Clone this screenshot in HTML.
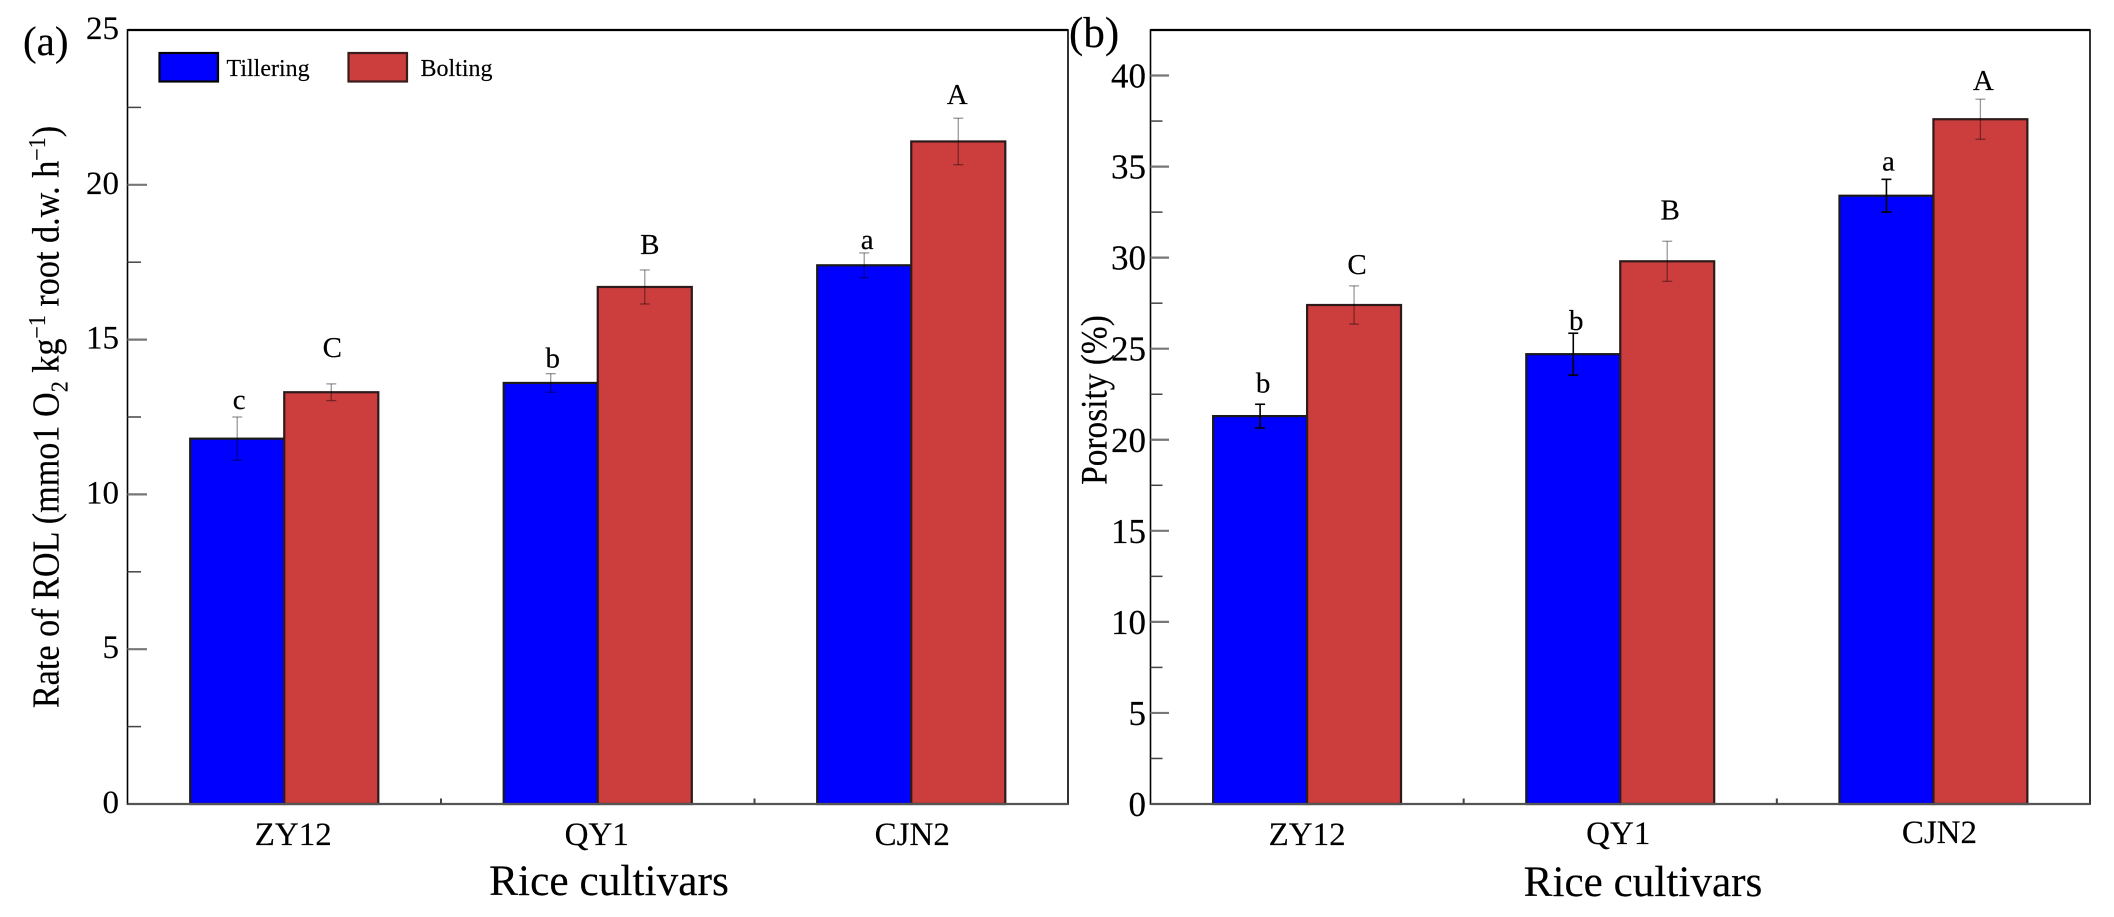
<!DOCTYPE html>
<html lang="en">
<head>
<meta charset="utf-8">
<title>Rate of ROL and porosity in rice cultivars</title>
<style>
html,body{margin:0;padding:0;background:#fff;width:2114px;height:917px;overflow:hidden}
svg{display:block}
text{font-family:"Liberation Serif","DejaVu Serif",serif;fill:#000;stroke:#000;stroke-width:0.15}
</style>
</head>
<body>
<svg id="figure" xmlns="http://www.w3.org/2000/svg" width="2114" height="917" viewBox="0 0 2114 917">
  <rect x="0" y="0" width="2114" height="917" fill="#fff"/>
  <g id="panel-a"></g>
  <g id="panel-b"></g>

  <text x="23" y="55" font-size="41">(a)</text>
  <text x="1069" y="47" font-size="43">(b)</text>

  <g>
    <g>
      <rect x="159.5" y="53" width="58.5" height="28.5" fill="#0000ff" stroke="#050505" stroke-width="2.2"/>
      <text x="226.5" y="76" font-size="24">Tillering</text>
    </g>
    <g>
      <rect x="348.5" y="53" width="58.5" height="28.5" fill="#cc3d3d" stroke="#3a1c1c" stroke-width="2.2"/>
      <text x="420.5" y="76" font-size="24">Bolting</text>
    </g>
  </g>

  <text transform="translate(58.5,417) rotate(-90) scale(1,1.12)" text-anchor="middle" font-size="34.2">Rate of ROL (mmo1 O<tspan font-size="22" dy="8">2</tspan><tspan dy="-8"> kg</tspan><tspan font-size="22" dy="-12">−1</tspan><tspan dy="12"> root d.w. h</tspan><tspan font-size="22" dy="-12">−1</tspan><tspan dy="12">)</tspan></text>
  <text transform="translate(1106.5,400) rotate(-90) scale(1,1.12)" text-anchor="middle" font-size="33.4">Porosity (%)</text>
  <text x="609" y="895" text-anchor="middle" font-size="43.4">Rice cultivars</text>
  <text x="1643" y="896" text-anchor="middle" font-size="43.2">Rice cultivars</text>
</svg>

<script>
// ---------- data ----------
const categories = ['ZY12', 'QY1', 'CJN2'];

// Panel (a): rate of radial oxygen loss
const rolTillering = [11.8, 13.6, 17.4];
const rolBolting = [13.3, 16.7, 21.4];
const rolTilleringErr = [0.7, 0.3, 0.4];
const rolBoltingErr = [0.27, 0.55, 0.75];
const rolTilleringLetters = ['c', 'b', 'a'];
const rolBoltingLetters = ['C', 'B', 'A'];
const rolMajorTicks = [0, 5, 10, 15, 20, 25];
const rolMinorTicks = [2.5, 7.5, 12.5, 17.5, 22.5];

// Panel (b): porosity
const porTillering = [21.3, 24.7, 33.4];
const porBolting = [27.4, 29.8, 37.6];
const porTilleringErr = [0.65, 1.15, 0.9];
const porBoltingErr = [1.05, 1.1, 1.1];
const porTilleringLetters = ['b', 'b', 'a'];
const porBoltingLetters = ['C', 'B', 'A'];
const porMajorTicks = [0, 5, 10, 15, 20, 25, 30, 35, 40];
const porMinorTicks = [2.5, 7.5, 12.5, 17.5, 22.5, 27.5, 32.5, 37.5];

// ---------- helpers ----------
const SVG_NS = 'http://www.w3.org/2000/svg';
function add(parent, tag, attrs, txt) {
  const node = document.createElementNS(SVG_NS, tag);
  for (const k in attrs) node.setAttribute(k, attrs[k]);
  if (txt !== undefined) node.textContent = txt;
  parent.appendChild(node);
  return node;
}

function drawPanel(p) {
  const root = document.getElementById(p.id);
  const yScale = v => p.bottom - (v / p.yMax) * (p.bottom - p.top);
  const step = (p.right - p.left) / categories.length;
  const xCenter = i => p.left + step * (i + 0.5);
  const barW = step * 0.3;
  let el;

  // bars
  categories.forEach((cat, i) => {
    el = add(root, 'rect', {x: xCenter(i) - barW, y: yScale(p.till[i]), width: barW, height: p.bottom - yScale(p.till[i]), fill: '#0000ff', stroke: '#1a1a1a', 'stroke-width': 2.2});
    
    
    el = add(root, 'rect', {x: xCenter(i), y: yScale(p.bolt[i]), width: barW, height: p.bottom - yScale(p.bolt[i]), fill: '#cc3d3d', stroke: '#2e1a1a', 'stroke-width': 2.2});
    
    
  });

  // error bars + significance letters
  const drawErr = (cx, v, e, color, width, name) => {
    const g = add(root, 'g', {stroke: color, 'stroke-width': width, fill: 'none'});
    
    
    add(g, 'line', {x1: cx, x2: cx, y1: yScale(v + e), y2: yScale(v - e)});
    add(g, 'line', {x1: cx - 5, x2: cx + 5, y1: yScale(v + e), y2: yScale(v + e)});
    add(g, 'line', {x1: cx - 5, x2: cx + 5, y1: yScale(v - e), y2: yScale(v - e)});
  };
  categories.forEach((cat, i) => {
    const cxT = xCenter(i) - barW / 2;
    const cxB = xCenter(i) + barW / 2;
    drawErr(cxT, p.till[i], p.tillErr[i], p.tillErrColor, p.tillErrWidth, 'error-bar-tillering-' + cat.toLowerCase());
    drawErr(cxB, p.bolt[i], p.boltErr[i], 'rgba(0,0,0,0.4)', 1.3, 'error-bar-bolting-' + cat.toLowerCase());

    el = add(root, 'text', {x: cxT + p.tillNudge[i][0], y: yScale(p.till[i] + p.tillErr[i]) - p.tillNudge[i][1], 'text-anchor': 'middle', 'font-size': p.letterSize}, p.tillLetters[i]);
    
    
    el = add(root, 'text', {x: cxB + p.boltNudge[i][0], y: yScale(p.bolt[i] + p.boltErr[i]) - p.boltNudge[i][1], 'text-anchor': 'middle', 'font-size': p.letterSize}, p.boltLetters[i]);
    
    
  });

  // frame
  el = add(root, 'rect', {x: p.left, y: p.top, width: p.right - p.left, height: p.bottom - p.top, fill: 'none', stroke: '#000', 'stroke-width': 1.6});
  
  
  el = add(root, 'line', {x1: p.left, x2: p.right, y1: p.top, y2: p.top, stroke: '#000', 'stroke-width': 2.2});
  
  
  el = add(root, 'line', {x1: p.left, x2: p.right, y1: p.bottom, y2: p.bottom, stroke: '#555', 'stroke-width': 2.2});
  
  

  // y ticks and labels
  p.majorTicks.forEach(t => {
    if (t > 0 && t < p.yMax) {
      el = add(root, 'line', {x1: p.left, x2: p.left + p.majorLen, y1: yScale(t), y2: yScale(t), stroke: '#777', 'stroke-width': 2.2});
      
      
    }
    el = add(root, 'text', {x: p.labelRight, y: yScale(t) + p.labelDrop, 'text-anchor': 'end', 'font-size': p.tickSize}, String(t));
    
    
  });
  p.minorTicks.forEach(t => {
    el = add(root, 'line', {x1: p.left, x2: p.left + p.minorLen, y1: yScale(t), y2: yScale(t), stroke: '#444', 'stroke-width': 1.5});
    
    
  });

  // x boundary ticks
  categories.slice(1).forEach((cat, i) => {
    const x = p.left + step * (i + 1);
    el = add(root, 'line', {x1: x, x2: x, y1: p.bottom, y2: p.bottom - 5.5, stroke: '#444', 'stroke-width': 2});
    
    
  });

  // category labels
  categories.forEach((cat, i) => {
    el = add(root, 'text', {x: xCenter(i) + p.catNudge[i][0], y: p.bottom + p.catNudge[i][1], 'text-anchor': 'middle', 'font-size': 33}, cat);
    
    
  });
}

drawPanel({
  id: 'panel-a', left: 127.5, right: 1068, top: 30, bottom: 804, yMax: 25,
  till: rolTillering, bolt: rolBolting, tillErr: rolTilleringErr, boltErr: rolBoltingErr,
  tillLetters: rolTilleringLetters, boltLetters: rolBoltingLetters,
  majorTicks: rolMajorTicks, minorTicks: rolMinorTicks,
  majorLen: 19.5, minorLen: 13.5, labelRight: 119, labelDrop: 9, tickSize: 33, letterSize: 29,
  tillErrColor: 'rgba(0,0,0,0.4)', tillErrWidth: 1.3,
  tillNudge: [[2, 8], [2, 6], [3, 4]], boltNudge: [[1, 27], [5, 16], [-1, 14]],
  catNudge: [[9, 41], [-1, 41], [1, 41]]
});

drawPanel({
  id: 'panel-b', left: 1150.5, right: 2090, top: 30, bottom: 804, yMax: 42.5,
  till: porTillering, bolt: porBolting, tillErr: porTilleringErr, boltErr: porBoltingErr,
  tillLetters: porTilleringLetters, boltLetters: porBoltingLetters,
  majorTicks: porMajorTicks, minorTicks: porMinorTicks,
  majorLen: 18.5, minorLen: 12, labelRight: 1146, labelDrop: 12, tickSize: 35, letterSize: 29,
  tillErrColor: '#000', tillErrWidth: 1.6,
  tillNudge: [[3, 12], [3, 3], [2, 9]], boltNudge: [[3, 12], [3, 22], [3, 9]],
  catNudge: [[0, 41], [-2, 40], [6, 39]]
});
</script>
</body>
</html>
